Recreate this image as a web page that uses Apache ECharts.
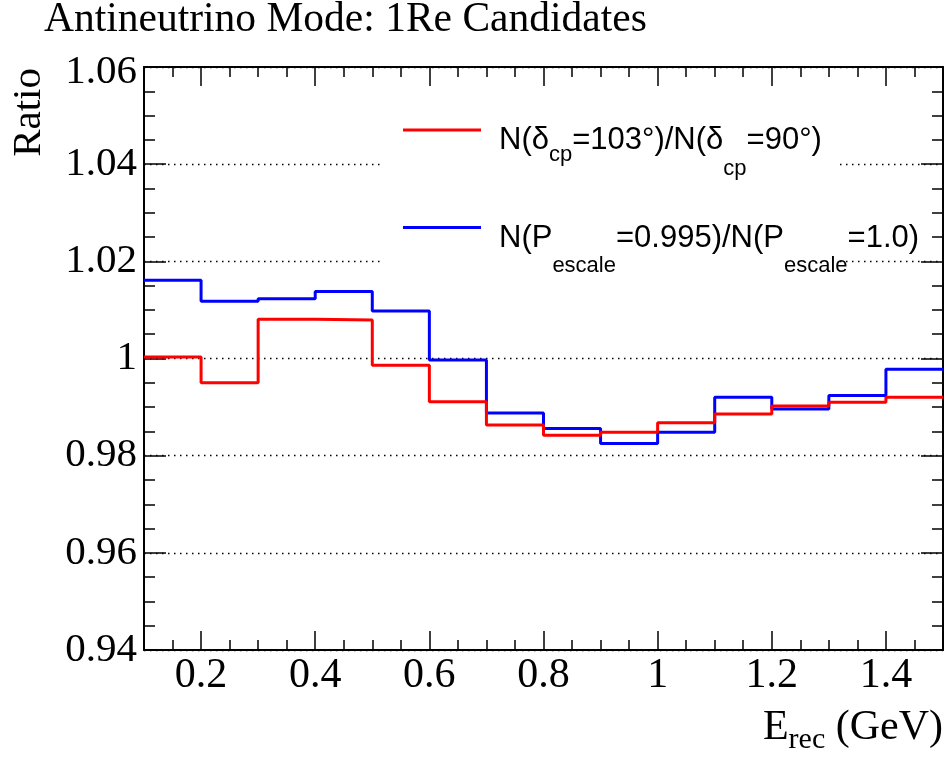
<!DOCTYPE html>
<html>
<head>
<meta charset="utf-8">
<script src="https://cdn.jsdelivr.net/npm/echarts@6/dist/echarts.min.js"></script>
<style>
html,body{margin:0;padding:0;background:#fff;}
#c{width:948px;height:763px;}
</style>
</head>
<body>
<div id="c"></div>
<script>
// ---- data ----
var binEdges = [0.1, 0.2, 0.3, 0.4, 0.5, 0.6, 0.7, 0.8, 0.9, 1.0, 1.1, 1.2, 1.3, 1.4, 1.5];
var deltaCpRatio = [1.0003, 0.9950, 1.0081, 1.0079, 0.9986, 0.9911, 0.9863, 0.9842, 0.9848, 0.9868, 0.9886, 0.9902, 0.9910, 0.9920];
var pEscaleRatio = [1.0161, 1.0118, 1.0123, 1.0138, 1.0098, 0.9997, 0.9888, 0.9856, 0.9825, 0.9848, 0.9920, 0.9896, 0.9924, 0.9978];
var xMajorTicks = [0.2, 0.4, 0.6, 0.8, 1.0, 1.2, 1.4];
var xMinorTicks = [0.15, 0.2, 0.25, 0.3, 0.35, 0.4, 0.45, 0.5, 0.55, 0.6, 0.65, 0.7, 0.75, 0.8, 0.85, 0.9, 0.95, 1.0, 1.05, 1.1, 1.15, 1.2, 1.25, 1.3, 1.35, 1.4, 1.45];
var seriesNames = ['deltaCp', 'pEscale'];
var legendTexts = {
  deltaCp: '{a0|N(δ}{s1|cp}{a|=103°)/N(δ}{s2|cp}{a|=90°)}',
  pEscale: '{a0|N(P}{s2|escale}{a|=0.995)/N(P}{s2|escale}{a|=1.0)}'
};
var titleText = 'Antineutrino Mode: 1Re Candidates';
var yTitle = 'Ratio';

function histPoints(edges, vals) {
  return edges.map(function (e, i) { return [e, vals[Math.min(i, vals.length - 1)]]; });
}

var SERIF = 'Liberation Serif';
var SANS = 'Liberation Sans';
var black = '#000';

function xAxisDef(pos, ticks, len, isMain) {
  return {
    type: 'value', min: 0.1, max: 1.5, position: pos,
    axisLine: { show: isMain, onZero: false, lineStyle: { color: black, width: 2 } },
    axisTick: { show: true, inside: true, length: len, customValues: ticks, lineStyle: { color: black, width: 1.5 } },
    axisLabel: (isMain && pos === 'bottom') ? {
      show: true, customValues: xMajorTicks, fontFamily: SERIF, fontSize: 42, color: black, margin: 5,
      formatter: function (v) { return String(+v.toFixed(2)); }
    } : { show: false },
    splitLine: { show: false }
  };
}
function yAxisDef(pos, isMain) {
  return {
    type: 'value', min: 0.94, max: 1.06, interval: 0.02, position: pos,
    axisLine: { show: true, onZero: false, lineStyle: { color: black, width: 2 } },
    axisTick: { show: true, inside: true, length: 22, lineStyle: { color: black, width: 1.5 } },
    minorTick: { show: true, splitNumber: 4, length: 11, lineStyle: { color: black, width: 1.5 } },
    axisLabel: isMain ? {
      show: true, fontFamily: SERIF, fontSize: 41, color: black, margin: 7,
      formatter: function (v) {
        var s = String(+v.toFixed(2));
        return v > 1.059 ? '{t|' + s + '}' : s;
      },
      rich: { t: { fontFamily: SERIF, fontSize: 41, color: black, padding: [10, 0, 0, 0] } }
    } : { show: false },
    splitLine: isMain ? { show: true, lineStyle: { color: black, width: 1.3, type: [1.5, 4.5] } } : { show: false }
  };
}

var chart = echarts.init(document.getElementById('c'), null, { renderer: 'canvas' });
chart.setOption({
  animation: false,
  backgroundColor: '#fff',
  title: [
    { text: titleText, left: 44, top: -1, padding: 0,
      textStyle: { fontFamily: SERIF, fontSize: 41.5, fontWeight: 'normal', color: black } },
    { text: '{a|E}{s|rec}{a| (GeV)}', right: 5, top: 701, padding: 0,
      textStyle: { fontFamily: SERIF, fontSize: 42, fontWeight: 'normal', color: black,
        rich: {
          a: { fontFamily: SERIF, fontSize: 42, color: black },
          s: { fontFamily: SERIF, fontSize: 30, color: black, padding: [24, 0, 0, 0] }
        } } }
  ],
  grid: { left: 144, right: 5, top: 67, bottom: 113, containLabel: false },
  xAxis: [
    xAxisDef('bottom', xMajorTicks, 19, true),
    xAxisDef('bottom', xMinorTicks, 10, false),
    xAxisDef('top', xMajorTicks, 19, true),
    xAxisDef('top', xMinorTicks, 10, false)
  ],
  yAxis: [
    yAxisDef('left', true),
    yAxisDef('right', false)
  ],
  legend: {
    orient: 'vertical', left: 403, top: 125, padding: 0, itemGap: 43,
    itemWidth: 78, itemHeight: 3, icon: 'rect',
    data: seriesNames,
    formatter: function (name) { return legendTexts[name]; },
    textStyle: {
      fontFamily: SANS, fontSize: 31, color: black,
      rich: {
        a0: { fontFamily: SANS, fontSize: 31, color: black, padding: [21, 0, 0, 13] },
        a: { fontFamily: SANS, fontSize: 31, color: black, padding: [21, 0, 0, 0] },
        s1: { fontFamily: SANS, fontSize: 22, color: black, padding: [50, 0, 0, 0] },
        s2: { fontFamily: SANS, fontSize: 22, color: black, padding: [77, 0, 0, 0] }
      }
    }
  },
  graphic: [
    { type: 'rect', z: 1, shape: { x: 384, y: 95, width: 454, height: 177 }, style: { fill: '#fff' } },
    { type: 'text', z: 5, x: 29.5, y: 68, rotation: Math.PI / 2,
      style: { text: yTitle, fontFamily: SERIF, fontSize: 41, fill: black, textAlign: 'right', textVerticalAlign: 'middle' } }
  ],
  series: [
    { name: 'deltaCp', type: 'line', step: 'end', xAxisIndex: 0, yAxisIndex: 0,
      data: histPoints(binEdges, deltaCpRatio), showSymbol: false, symbol: 'none',
      color: '#ff0000', lineStyle: { color: '#ff0000', width: 3 }, z: 3 },
    { name: 'pEscale', type: 'line', step: 'end', xAxisIndex: 0, yAxisIndex: 0,
      data: histPoints(binEdges, pEscaleRatio), showSymbol: false, symbol: 'none',
      color: '#0000ff', lineStyle: { color: '#0000ff', width: 3 }, z: 2 }
  ]
});
</script>
</body>
</html>
